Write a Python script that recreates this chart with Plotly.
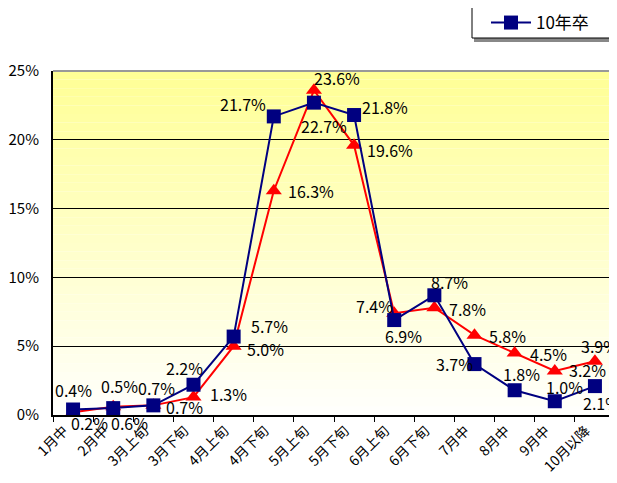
import plotly.graph_objects as go

categories = ["1月中", "2月中", "3月上旬", "3月下旬", "4月上旬", "4月下旬", "5月上旬",
              "5月下旬", "6月上旬", "6月下旬", "7月中", "8月中", "9月中", "10月以降"]
blue_name = "10年卒"
blue_values = [0.4, 0.5, 0.7, 2.2, 5.7, 21.7, 22.7, 21.8, 6.9, 8.7, 3.7, 1.8, 1.0, 2.1]
red_values = [0.2, 0.6, 0.7, 1.3, 5.0, 16.3, 23.6, 19.6, 7.4, 7.8, 5.8, 4.5, 3.2, 3.9]
y_ticks = [0, 5, 10, 15, 20, 25]

# label offsets (pixels) for each point
blue_shift = [(0, 20), (6, 22), (3, 17), (-9, 17), (36, 11), (-31, 12), (10, -23),
              (31, 8), (9, -16), (15, 13), (-20, 0), (7, 16), (10, 14), (7, -17)]
red_shift = [(16, -11), (16, -16), (31, -2), (35, 3), (32, -3), (37, 0), (23, 12),
             (36, -5), (-20, 7), (33, -1), (33, -1), (34, -1), (33, 1), (5, 15)]

FONT = "Noto Sans CJK JP, sans-serif"
BLUE = "#000080"
RED = "#FF0000"

# page offset of the figure inside the browser window
OFF = 7
L, R, T, B = 52 - OFF, 617 - (614 - OFF), 70 - OFF, 483 - (414 - OFF)
PW, PH = 617 - L - R, 483 - T - B


def px(xs):
    return (xs - OFF - L) / PW


def py(ys):
    return (483 - B - (ys - OFF)) / PH


fig = go.Figure()
fig.add_trace(go.Scatter(
    x=categories, y=red_values, mode="lines+markers", showlegend=False,
    line=dict(color=RED, width=2),
    marker=dict(symbol="triangle-up", size=14, color=RED),
    cliponaxis=False))
fig.add_trace(go.Scatter(
    x=categories, y=blue_values, mode="lines+markers", name=blue_name,
    line=dict(color=BLUE, width=2),
    marker=dict(symbol="square", size=14, color=BLUE),
    cliponaxis=False))

annotations = []
for vals, shifts in ((blue_values, blue_shift), (red_values, red_shift)):
    for c, v, (dx, dy) in zip(categories, vals, shifts):
        annotations.append(dict(
            x=c, y=v, xref="x", yref="y", text=f"{v:.1f}%", showarrow=False,
            xshift=dx, yshift=dy, font=dict(family=FONT, size=16, color="#000")))

# gradient background
shapes = []
n = 40
top = (255, 255, 150)
bot = (255, 255, 252)
for i in range(n):
    t = i / (n - 1)
    col = tuple(round(bot[k] + (top[k] - bot[k]) * t) for k in range(3))
    shapes.append(dict(type="rect", xref="paper", yref="paper",
                       x0=0, x1=1, y0=i / n, y1=(i + 1) / n,
                       fillcolor=f"rgb{col}", line=dict(width=0), layer="below"))
# gray top/right frame
shapes.append(dict(type="line", xref="paper", yref="paper", x0=0, x1=1, y0=1, y1=1,
                   line=dict(color="#999999", width=2)))
shapes.append(dict(type="line", xref="paper", yref="paper", x0=1, x1=1, y0=0, y1=1,
                   line=dict(color="#999999", width=2)))
# legend shadow and box
shapes.append(dict(type="rect", xref="paper", yref="paper",
                   x0=px(473), x1=px(640), y0=py(41), y1=py(37),
                   fillcolor="#888888", line=dict(width=0)))
shapes.append(dict(type="rect", xref="paper", yref="paper",
                   x0=px(471), x1=px(640), y0=py(37), y1=py(-40),
                   fillcolor="white", line=dict(color="#000", width=1)))

fig.update_layout(
    width=617, height=483,
    margin=dict(l=L, r=R, t=T, b=B, autoexpand=False),
    paper_bgcolor="white", plot_bgcolor="white",
    font=dict(family=FONT, size=15, color="#000"),
    showlegend=True,
    legend=dict(xref="paper", yref="paper", x=px(485), y=py(4),
                xanchor="left", yanchor="top", borderwidth=0,
                bgcolor="rgba(0,0,0,0)", font=dict(family=FONT, size=17),
                itemwidth=40),
    xaxis=dict(type="category", range=[-0.5, len(categories) - 0.5],
               tickangle=-45, ticks="outside", tickson="boundaries", ticklen=5,
               tickcolor="#000", showline=True, linecolor="#000", linewidth=2,
               showgrid=False, ticklabelshift=-9,
               tickfont=dict(family=FONT, size=14)),
    yaxis=dict(range=[0, 25], tickvals=y_ticks, ticktext=[f"{t}%" for t in y_ticks],
               showgrid=True, gridcolor="#000", gridwidth=1, zeroline=False,
               showline=True, linecolor="#000", linewidth=2, ticks="",
               ticklabelstandoff=9, tickfont=dict(size=15)),
    annotations=annotations, shapes=shapes,
)

fig.write_html("out.html")
